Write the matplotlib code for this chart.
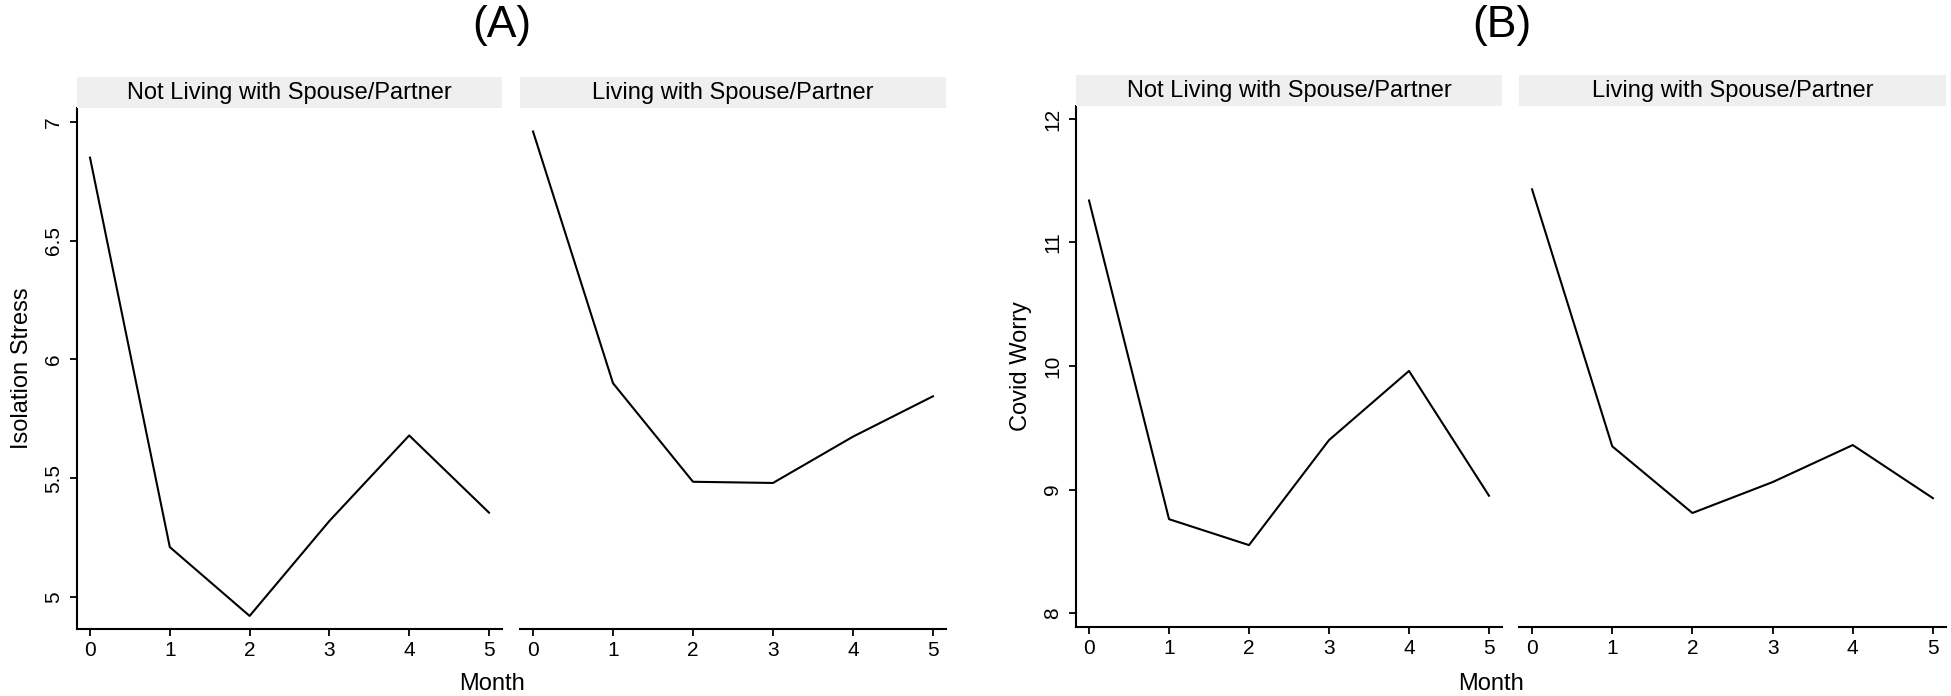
import matplotlib
matplotlib.use("Agg")
import matplotlib.pyplot as plt

plt.rcParams['font.family'] = ['Liberation Sans', 'DejaVu Sans']

months = [0, 1, 2, 3, 4, 5]
groups = ["Not Living with Spouse/Partner", "Living with Spouse/Partner"]

# (A) isolation stress
iso_not_living = [6.85, 5.21, 4.92, 5.32, 5.68, 5.355]
iso_living = [6.96, 5.90, 5.485, 5.48, 5.675, 5.845]
iso_ticks = [5, 5.5, 6, 6.5, 7]
iso_ticklabels = ["5", "5.5", "6", "6.5", "7"]

# (B) covid worry
worry_not_living = [11.34, 8.76, 8.55, 9.40, 9.96, 8.95]
worry_living = [11.43, 9.35, 8.81, 9.06, 9.36, 8.93]
worry_ticks = [8, 9, 10, 11, 12]
worry_ticklabels = ["8", "9", "10", "11", "12"]

W, H = 1951, 696
fig = plt.figure(figsize=(W / 100, H / 100), dpi=100)


def px(x0, y0, x1, y1):
    return [x0 / W, 1 - y1 / H, (x1 - x0) / W, (y1 - y0) / H]


def panel(x0, x1, y_top, y_bot, series, ylim, yticks, yticklabels, ylabel, first):
    ax = fig.add_axes(px(x0, y_top, x1, y_bot))
    ax.plot(months, series, color='black', lw=1.5)
    ax.set_xlim(-0.163, 5.163)
    ax.set_ylim(*ylim)
    ax.set_xticks(months)
    ax.set_xticklabels([str(m) for m in months], fontsize=15)
    ax.spines['top'].set_visible(False)
    ax.spines['right'].set_visible(False)
    ax.spines['bottom'].set_linewidth(1.5)
    ax.spines['left'].set_linewidth(1.5)
    ax.tick_params(axis='x', length=5, width=1.3, pad=4)
    if first:
        ax.set_yticks(yticks)
        ax.set_yticklabels(yticklabels, fontsize=15, rotation=90, va='center')
        ax.tick_params(axis='y', length=5, width=1.3, pad=5)
        ax.set_ylabel(ylabel, fontsize=17, labelpad=8)
    else:
        ax.spines['left'].set_visible(False)
        ax.set_yticks([])
    return ax


def strip(x0, x1, y0, y1, text):
    s = fig.add_axes(px(x0, y0, x1, y1))
    s.set_facecolor('#efefef')
    for sp in s.spines.values():
        sp.set_visible(False)
    s.set_xticks([])
    s.set_yticks([])
    s.text(0.5, 0.5, text, ha='center', va='center', fontsize=17, transform=s.transAxes)


# panel A
iso_lim = (4.865, 7.059)
panel(77, 502, 108, 629, iso_not_living, iso_lim, iso_ticks, iso_ticklabels, "Isolation Stress", True)
panel(520, 946, 108, 629, iso_living, iso_lim, iso_ticks, iso_ticklabels, "", False)
strip(77, 502, 77, 108, groups[0])
strip(520, 946, 77, 108, groups[1])

# panel B
worry_lim = (7.887, 12.105)
panel(1076, 1502, 106, 627, worry_not_living, worry_lim, worry_ticks, worry_ticklabels, "Covid Worry", True)
panel(1519, 1946, 106, 627, worry_living, worry_lim, worry_ticks, worry_ticklabels, "", False)
strip(1076, 1502, 75, 106, groups[0])
strip(1519, 1946, 75, 106, groups[1])

fig.text(492 / W, 1 - 684 / H, "Month", ha='center', va='center', fontsize=17)
fig.text(1491 / W, 1 - 684 / H, "Month", ha='center', va='center', fontsize=17)
fig.text(502 / W, 1 - 26 / H, "(A)", ha='center', va='center', fontsize=32)
fig.text(1502 / W, 1 - 26 / H, "(B)", ha='center', va='center', fontsize=32)

fig.savefig("out.png", dpi=100)
